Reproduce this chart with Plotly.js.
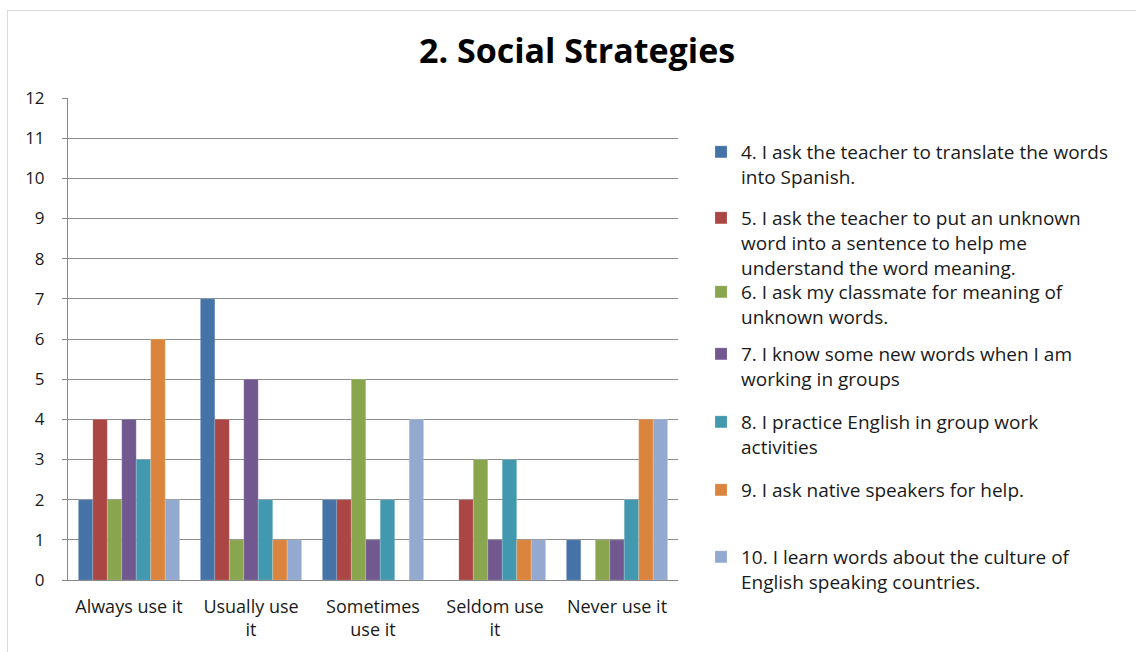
<!DOCTYPE html>
<html>
<head>
<meta charset="utf-8">
<script src="https://cdn.plot.ly/plotly-3.0.1.min.js"></script>
<style>
html,body{margin:0;padding:0;background:#fff;overflow:hidden;}
#frame{position:absolute;left:7px;top:10px;width:1200px;height:700px;border:1px solid #d9d9d9;}
#chart{position:absolute;left:0;top:0;width:1136px;height:652px;}
</style>
</head>
<body>
<div id="frame"></div>
<div id="chart"></div>
<script>
const categories = ["Always use it", "Usually use<br>it", "Sometimes<br>use it", "Seldom use<br>it", "Never use it"];
const seriesNames = [
  "4. I ask the teacher to translate the words<br>into Spanish.",
  "5. I ask the teacher to put an unknown<br>word into a sentence to help me<br>understand the word meaning.",
  "6. I ask my classmate for meaning of<br>unknown words.",
  "7. I know some new words when I am<br>working in groups",
  "8. I practice English in group work<br>activities",
  "9. I ask native speakers for help.",
  "10. I learn words about the culture of<br>English speaking countries."
];
const s4 = [2, 7, 2, 0, 1];
const s5 = [4, 4, 2, 2, 0];
const s6 = [2, 1, 5, 3, 1];
const s7 = [4, 5, 1, 1, 1];
const s8 = [3, 2, 2, 3, 2];
const s9 = [6, 1, 0, 1, 4];
const s10 = [2, 1, 4, 1, 4];
const seriesValues = [s4, s5, s6, s7, s8, s9, s10];
const colors = ["#4572A7", "#AA4643", "#89A54E", "#71588F", "#4198AF", "#DB843D", "#93A9CF"];
const yTicks = [0,1,2,3,4,5,6,7,8,9,10,11,12];

// legend first-line positions (pixels from top)
const legendTops = [133, 199, 273, 335, 403, 471, 538];
const plotTop = 98, plotBottom = 580;

const traces = seriesValues.map((vals, i) => ({
  type: "bar",
  x: categories,
  y: vals,
  name: seriesNames[i],
  marker: {color: colors[i], line: {color: "rgba(255,255,255,0.35)", width: 0.5}},
  legend: i === 0 ? "legend" : "legend" + (i + 1),
  hoverinfo: "none"
}));

const layout = {
  width: 1136, height: 652,
  margin: {l: 68, r: 458, t: plotTop, b: 652 - plotBottom},
  paper_bgcolor: "rgba(0,0,0,0)",
  plot_bgcolor: "rgba(0,0,0,0)",
  font: {family: "Open Sans, sans-serif", color: "#1a1a1a"},
  title: {text: "<b>2. Social Strategies</b>", x: 0.508, xanchor: "center", y: 0.922, yanchor: "middle",
          font: {size: 34, color: "#000", family: "Open Sans, sans-serif"}},
  barmode: "group", bargap: 0.17, bargroupgap: 0,
  xaxis: {type: "category", showline: true, linecolor: "#888", linewidth: 1, ticks: "",
          ticklabelstandoff: 10,
          tickfont: {size: 18, color: "#1a1a1a"}, showgrid: false, automargin: false},
  yaxis: {range: [0, 12], tickvals: yTicks, ticktext: yTicks.map(String), showgrid: true,
          gridcolor: "#8c8c8c", gridwidth: 1, showline: true, linecolor: "#888", linewidth: 1,
          ticks: "outside", ticklen: 5, tickcolor: "#888", ticklabelstandoff: 14,
          tickfont: {size: 17, color: "#1a1a1a"}, zeroline: false, automargin: false},
  showlegend: true
};
const plotH = plotBottom - plotTop;
seriesValues.forEach((v, i) => {
  const key = i === 0 ? "legend" : "legend" + (i + 1);
  layout[key] = {
    x: (701 - 68) / 610, xanchor: "left",
    y: (plotBottom - legendTops[i]) / plotH, yanchor: "top",
    bgcolor: "rgba(0,0,0,0)", borderwidth: 0,
    font: {size: 19, color: "#1a1a1a", family: "Open Sans, sans-serif"},
    valign: "top", itemwidth: 30, tracegroupgap: 0
  };
});

Plotly.newPlot("chart", traces, layout, {staticPlot: true});
</script>
</body>
</html>
